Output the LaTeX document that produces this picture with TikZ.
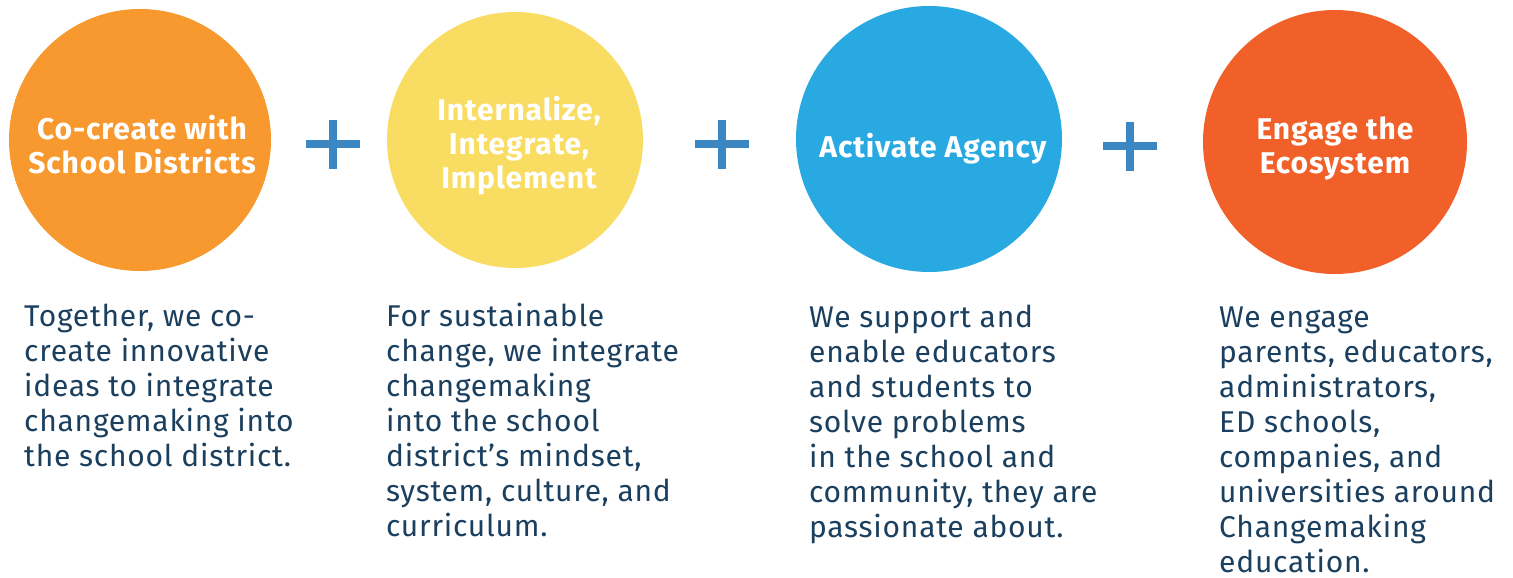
\documentclass[tikz,border=0pt]{standalone}
\usepackage{fontspec}
\setmainfont{Fira Sans}
\newfontfamily\titlefont[LetterSpace=3]{Fira Sans}
\newfontfamily\bodyfont[LetterSpace=2.5]{Fira Sans}
\definecolor{corange}{HTML}{F7992E}
\definecolor{cyellow}{HTML}{F9DC62}
\definecolor{cblue}{HTML}{29A9E1}
\definecolor{cred}{HTML}{F26029}
\definecolor{cplus}{HTML}{3A87C4}
\definecolor{ctext}{HTML}{1B3F5E}
\begin{document}
\begin{tikzpicture}[x=1pt,y=-1pt,
  disc/.style={circle,inner sep=0pt,minimum size=262pt},
  title/.style={text=white,font=\titlefont\fontsize{30}{34}\selectfont\bfseries,align=center},
  body/.style={text=ctext,font=\bodyfont\fontsize{30}{35}\selectfont,align=left,anchor=base west,inner sep=0pt}]
\useasboundingbox (0,0) rectangle (1513,578);
\node[disc,fill=corange] (c1) at (140,140) {};
\node[disc,fill=cyellow,minimum size=256pt] (c2) at (515,140) {};
\node[disc,fill=cblue,minimum size=266pt] (c3) at (929,139) {};
\node[disc,fill=cred,minimum size=264pt] (c4) at (1335,142) {};
\node[title] (t1) at (142,145) {Co-create with\\School Districts};
\node[title] (t2) at (519,146) {Internalize,\\Integrate,\\Implement};
\node[title] (t3) at (933,149) {Activate Agency};
\node[title] (t4) at (1335,148) {Engage the\\Ecosystem};
\foreach \n/\x/\y in {p1/333/144,p2/722/144,p3/1130/146}{
  \node[inner sep=0pt,minimum width=54pt,minimum height=8pt,fill=cplus] (\n h) at (\x,\y) {};
  \node[inner sep=0pt,minimum width=8pt,minimum height=49pt,fill=cplus] (\n v) at (\x,\y) {};
}
\node[body] (b1) at (24,466) {Together, we co-\\create innovative\\ideas to integrate\\changemaking into\\the school district.};
\node[body] (b2) at (386,536) {For sustainable\\change, we integrate\\changemaking\\into the school\\district’s mindset,\\system, culture, and\\curriculum.};
\node[body] (b3) at (809,537) {We support and\\enable educators\\and students to\\solve problems\\in the school and\\community, they are\\passionate about.};
\node[body] (b4) at (1219,572) {We engage\\parents, educators,\\administrators,\\ED schools,\\companies, and\\universities around\\Changemaking\\education.};
\end{tikzpicture}
\end{document}
